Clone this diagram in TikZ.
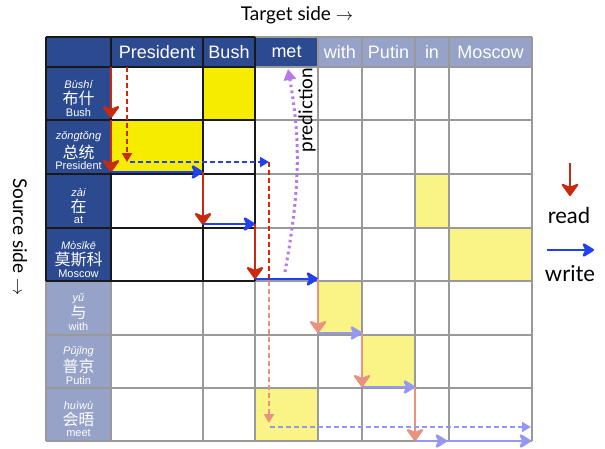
\documentclass[tikz,border=0pt]{standalone}
\usepackage{fontspec}
\setmainfont{Lato}
\newfontfamily\hdfont{Liberation Sans}
\newfontfamily\cjk{Noto Sans CJK SC}
\usetikzlibrary{arrows.meta,positioning}

\definecolor{darkhd}{HTML}{2C4A8F}
\definecolor{fadehd}{HTML}{96A2C7}
\definecolor{hiyel}{HTML}{F5EC00}
\definecolor{loyel}{HTML}{FAF386}
\definecolor{readc}{HTML}{C8290F}
\definecolor{writec}{HTML}{2141EE}
\definecolor{readf}{HTML}{E8927F}
\definecolor{writef}{HTML}{9399F2}
\definecolor{predc}{HTML}{B779E8}

\tikzset{
  gridgray/.style={draw=black!40, line width=1.1pt},
  griddark/.style={draw=black!90, line width=1.1pt},
  readhead/.tip={Stealth[length=14pt,width=20pt,inset=4pt,round]},
  writehead/.tip={Stealth[length=14pt,width=17pt,inset=4pt,round]},
  readarr/.style={draw=readc, line width=2.2pt, -readhead},
  writearr/.style={draw=writec, line width=2.6pt, -writehead},
  readfade/.style={readarr, draw=readf},
  writefade/.style={writearr, draw=writef},
  readdash/.style={draw=readc, line width=2pt, dash pattern=on 5pt off 3pt, -{Triangle[length=9pt,width=10pt]}},
  writedash/.style={readdash, draw=writec},
  readdashfade/.style={readdash, draw=readf},
  writedashfade/.style={readdash, draw=writef},
  predarr/.style={draw=predc, line width=3pt, dash pattern=on 2.6pt off 3.4pt, -{Triangle[length=11pt,width=12pt]}},
  hdtext/.style={text=white, font=\hdfont\fontsize{18}{20}\selectfont},
  pytext/.style={text=white, font=\hdfont\itshape\fontsize{11}{13}\selectfont},
  zhtext/.style={text=white, font=\cjk\fontsize{16}{18}\selectfont},
  entext/.style={text=white, font=\hdfont\fontsize{11}{13}\selectfont},
  sidetext/.style={font=\fontsize{19}{22}\selectfont}
}

\begin{document}
\begin{tikzpicture}[x=1pt, y=-1pt]
\useasboundingbox (0,0) rectangle (605,448);

% grid corners
\foreach \x [count=\i from 0] in {46,111,203,255,318,362,415,449,532}
  \foreach \y [count=\j from 0] in {37,67,120,174,228,281,335,388,441}
    \coordinate (c\i-\j) at (\x,\y);

% header and cells
\fill[darkhd] (c0-0) rectangle (c4-1);
\fill[fadehd] (c4-0) rectangle (c8-1);
\fill[darkhd] (c0-1) rectangle (c1-5);
\fill[fadehd] (c0-5) rectangle (c1-8);
\fill[hiyel] (c2-1) rectangle (c3-2);
\fill[hiyel] (c1-2) rectangle (c2-3);
\fill[loyel] (c6-3) rectangle (c7-4);
\fill[loyel] (c7-4) rectangle (c8-5);
\fill[loyel] (c4-5) rectangle (c5-6);
\fill[loyel] (c5-6) rectangle (c6-7);
\fill[loyel] (c3-7) rectangle (c4-8);

\foreach \i in {0,...,8} \draw[gridgray] (c\i-0) -- (c\i-8);
\foreach \j in {0,...,8} \draw[gridgray] (c0-\j) -- (c8-\j);
\foreach \i in {0,...,3} \draw[griddark] (c\i-0) -- (c\i-5);
\foreach \j in {0,...,5} \draw[griddark] (c0-\j) -- (c3-\j);

% target words
\foreach \w [count=\i] in {President,Bush,met,with,Putin,in,Moscow} {
  \pgfmathtruncatemacro\k{\i+1}
  \path (c\i-0) -- (c\k-1) node[midway, hdtext] (tw\i) {\w};
}

% source words
\foreach \py/\zh/\en [count=\j] in {Bùshí/布什/Bush, zǒngtǒng/总统/President, zài/在/at,
    Mòsīkē/莫斯科/Moscow, yǔ/与/with, Pǔjīng/普京/Putin, huìwù/会晤/meet} {
  \pgfmathtruncatemacro\k{\j+1}
  \path (c0-\j) -- (c1-\k) node[midway, yshift=-5pt, zhtext] (zh\j) {\zh};
  \node[pytext, above=-4.5pt of zh\j.north] (py\j) {\py};
  \node[entext, below=-4.5pt of zh\j.south] (en\j) {\en};
}

% read / write steps
\draw[readarr] (c1-1) -- ([yshift=2pt]c1-2);
\draw[readarr] (c1-2) -- ([yshift=2pt]c1-3);
\draw[writearr] ([yshift=2pt]c1-3) -- ([yshift=2pt]c2-3);
\draw[readarr] ([yshift=2pt]c2-3) -- ([yshift=3pt]c2-4);
\draw[writearr] ([yshift=4pt]c2-4) -- ([yshift=4pt]c3-4);
\draw[readarr] ([yshift=4pt]c3-4) -- ([yshift=2pt]c3-5);
\draw[writearr] ([yshift=2pt]c3-5) -- ([yshift=2pt]c4-5);
\draw[readfade] ([yshift=2pt]c4-5) -- ([yshift=2pt]c4-6);
\draw[writefade] ([yshift=2pt]c4-6) -- ([yshift=2pt]c5-6);
\draw[readfade] ([yshift=2pt]c5-6) -- ([yshift=1pt]c5-7);
\draw[writefade] ([yshift=1pt]c5-7) -- ([yshift=1pt]c6-7);
\draw[readfade] ([yshift=1pt]c6-7) -- ([yshift=0pt]c6-8);
\draw[writefade] (c6-8) -- ([xshift=-2pt]c7-8);
\draw[writefade] ([xshift=-2pt]c7-8) -- ([xshift=-1pt]c8-8);

% dashed path
\coordinate (dA) at ([xshift=16pt]c1-1);
\coordinate (dB) at ([xshift=16pt,yshift=12pt]c1-3);
\coordinate (dC) at ([xshift=14pt,yshift=12pt]c3-3);
\coordinate (dD) at ([xshift=14pt]c3-5);
\coordinate (dE) at ([xshift=14pt,yshift=18pt]c3-8);
\coordinate (dF) at ([xshift=15pt,yshift=14pt]c3-8);
\coordinate (dG) at ([xshift=-1pt,yshift=14pt]c8-8);
\draw[readdash] (dA) -- (dB);
\draw[writedash] ([xshift=3pt]dB) -- (dC);
\draw[readdash, -] (dC) -- (dD);
\draw[readdashfade] (dD) -- (dE);
\draw[writedashfade] (dF) -- (dG);

% prediction
\coordinate (pA) at ([xshift=30pt,yshift=9pt]c3-5);
\coordinate (pB) at ([xshift=33pt,yshift=-2pt]c3-1);
\draw[predarr] (pA) to[out=80, in=-80] (pB);
\node[sidetext, rotate=90] (pred) at (307,110) {prediction};

% axis labels
\node[sidetext] (target) at (297,15) {Target side $\rightarrow$};
\node[sidetext, rotate=-90] (source) at (20,237) {Source side $\rightarrow$};

% legend
\coordinate (rdA) at (570,163);
\coordinate (rdB) at (570,196);
\draw[readarr, line width=2pt] (rdA) -- (rdB);
\node[sidetext, font=\fontsize{22}{24}\selectfont] (read) at (569,215) {read};
\coordinate (wrA) at (547,250);
\coordinate (wrB) at (594,250);
\draw[writearr] (wrA) -- (wrB);
\node[sidetext, font=\fontsize{22}{24}\selectfont] (write) at (570,274) {write};
\end{tikzpicture}
\end{document}
